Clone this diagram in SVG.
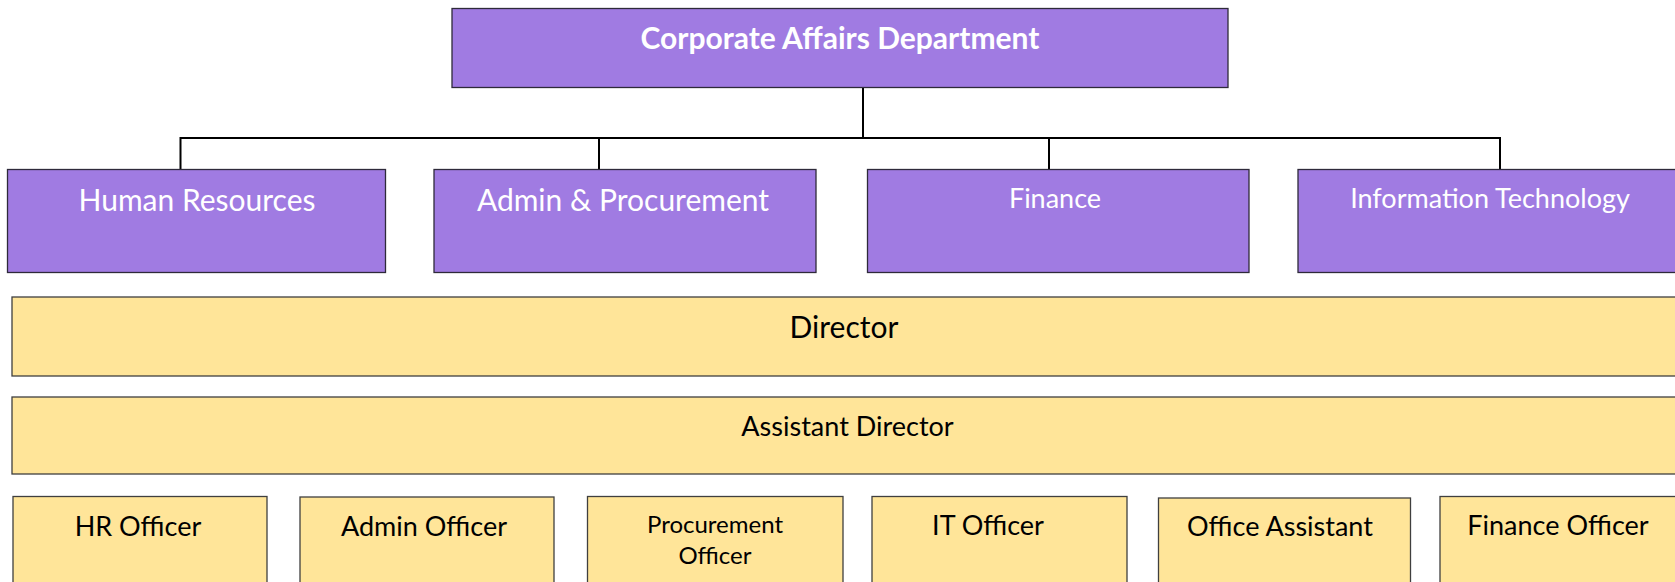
<svg xmlns="http://www.w3.org/2000/svg" width="1675" height="582" viewBox="0 0 1675 582">
<style>
.p{fill:#A07BE2;stroke:#2e2a3a;stroke-width:1.3}
.y{fill:#FFE599;stroke:#3f3f3f;stroke-width:1.3}
.w{fill:#ffffff;font-family:Lato,"Open Sans",sans-serif;text-anchor:middle}
.k{fill:#000000;font-family:Lato,"Open Sans",sans-serif;text-anchor:middle}
.c{fill:none;stroke:#000000;stroke-width:2}
</style>
<rect width="1675" height="582" fill="#ffffff"/>
<g id="connectors">
<path class="c" d="M863 88V138M180.5 138H1500M180.5 137V169M599 138V169M1049 138V169M1500 137V169"/>
</g>
<g id="corporate-affairs">
<rect class="p" x="452" y="8.5" width="776" height="79"/>
<text class="w" x="840" y="49" font-size="30" font-weight="bold">Corporate Affairs Department</text>
</g>
<g id="human-resources">
<rect class="p" x="7.5" y="169.5" width="378" height="103"/>
<text class="w" x="197" y="211" font-size="30">Human Resources</text>
</g>
<g id="admin-procurement">
<rect class="p" x="434" y="169.5" width="382" height="103"/>
<text class="w" x="623" y="211" font-size="30">Admin &amp; Procurement</text>
</g>
<g id="finance">
<rect class="p" x="867.5" y="169.5" width="381.5" height="103"/>
<text class="w" x="1055" y="208" font-size="27">Finance</text>
</g>
<g id="information-technology">
<rect class="p" x="1298" y="169.5" width="390" height="103"/>
<text class="w" x="1490" y="208" font-size="27">Information Technology</text>
</g>
<g id="director">
<rect class="y" x="12" y="297" width="1680" height="79"/>
<text class="k" x="844" y="337.5" font-size="30">Director</text>
</g>
<g id="assistant-director">
<rect class="y" x="12" y="397" width="1680" height="77"/>
<text class="k" x="847.5" y="436" font-size="27">Assistant Director</text>
</g>
<g id="hr-officer">
<rect class="y" x="13" y="496.5" width="254" height="110"/>
<text class="k" x="138" y="536" font-size="27">HR Officer</text>
</g>
<g id="admin-officer">
<rect class="y" x="300" y="497" width="254" height="110"/>
<text class="k" x="424" y="536" font-size="27">Admin Officer</text>
</g>
<g id="procurement-officer">
<rect class="y" x="587.5" y="496.5" width="255.5" height="110"/>
<text class="k" x="715" y="533" font-size="24">Procurement</text>
<text class="k" x="715" y="564" font-size="24">Officer</text>
</g>
<g id="it-officer">
<rect class="y" x="872" y="496.5" width="255" height="110"/>
<text class="k" x="988" y="535" font-size="27">IT Officer</text>
</g>
<g id="office-assistant">
<rect class="y" x="1158.5" y="498" width="252" height="110"/>
<text class="k" x="1280" y="536" font-size="27">Office Assistant</text>
</g>
<g id="finance-officer">
<rect class="y" x="1440" y="496.5" width="254" height="110"/>
<text class="k" x="1558" y="535" font-size="27">Finance Officer</text>
</g>
</svg>
